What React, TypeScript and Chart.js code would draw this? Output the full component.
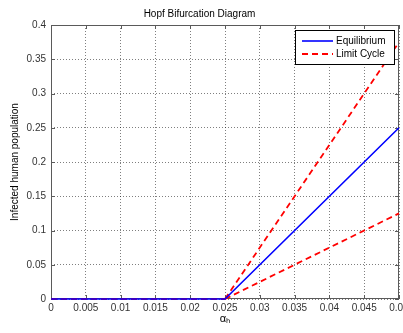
import React, { useEffect, useRef } from "react";
import { Chart, registerables } from "chart.js";
Chart.register(...registerables);

const xTickValues = [0, 0.005, 0.01, 0.015, 0.02, 0.025, 0.03, 0.035, 0.04, 0.045, 0.05];
const xTickLabels = ["0", "0.005", "0.01", "0.015", "0.02", "0.025", "0.03", "0.035", "0.04", "0.045", "0.05"];
const yTickValues = [0, 0.05, 0.1, 0.15, 0.2, 0.25, 0.3, 0.35, 0.4];
const yTickLabels = ["0", "0.05", "0.1", "0.15", "0.2", "0.25", "0.3", "0.35", "0.4"];

const alphaEq = [0, 0.025, 0.05];
const equilibrium = [0, 0, 0.25];
const alphaLcBase = [0, 0.025];
const limitCycleBase = [0, 0];
const alphaLcBranch = [0.025, 0.05];
const limitCycleUpper = [0, 0.375];
const limitCycleLower = [0, 0.125];

const FONT = "'Liberation Sans', Arial, Helvetica, sans-serif";

const toPts = (xs: number[], ys: number[]) => xs.map((x, i) => ({ x, y: ys[i] }));

const framePlugin = {
  id: "matlabFrame",
  beforeDatasetsDraw(chart: any) {
    const { ctx, chartArea, scales } = chart;
    const { left, right, top, bottom } = chartArea;
    const xs = scales.x;
    const ys = scales.y;
    ctx.save();
    ctx.strokeStyle = "#5a5a5a";
    ctx.lineWidth = 1;
    ctx.setLineDash([]);
    ctx.strokeRect(left + 0.5, top + 0.5, right - left - 1, bottom - top - 1);
    ctx.beginPath();
    xTickValues.forEach((v) => {
      const px = Math.round(xs.getPixelForValue(v)) + 0.5;
      ctx.moveTo(px, bottom);
      ctx.lineTo(px, bottom - 4);
      ctx.moveTo(px, top);
      ctx.lineTo(px, top + 4);
    });
    yTickValues.forEach((v) => {
      const py = Math.round(ys.getPixelForValue(v)) + 0.5;
      ctx.moveTo(left, py);
      ctx.lineTo(left + 4, py);
      ctx.moveTo(right, py);
      ctx.lineTo(right - 4, py);
    });
    ctx.stroke();
    ctx.restore();
  },
  afterDatasetsDraw(chart: any) {
    const { ctx } = chart;
    ctx.save();
    const entries = chart.data.datasets.filter((d: any) => d.showInLegend);
    const bx = 295.5;
    const by = 30.5;
    const bw = 99;
    const bh = 34;
    ctx.fillStyle = "#ffffff";
    ctx.fillRect(bx, by, bw, bh);
    ctx.strokeStyle = "#000000";
    ctx.lineWidth = 1;
    ctx.setLineDash([]);
    ctx.strokeRect(bx, by, bw, bh);
    ctx.font = `10px ${FONT}`;
    ctx.textBaseline = "middle";
    ctx.textAlign = "left";
    entries.forEach((d: any, i: number) => {
      const yy = 41 + i * 13;
      ctx.strokeStyle = d.borderColor;
      ctx.lineWidth = d.borderWidth;
      ctx.setLineDash(d.borderDash || []);
      ctx.beginPath();
      ctx.moveTo(302, yy);
      ctx.lineTo(333, yy);
      ctx.stroke();
      ctx.fillStyle = "#000000";
      ctx.fillText(d.label, 336, yy);
    });
    ctx.restore();
  },
};

export default function App() {
  const ref = useRef<HTMLCanvasElement | null>(null);
  useEffect(() => {
    document.body.style.overflow = "hidden";
    const canvas = ref.current!;
    const common = { pointRadius: 0, tension: 0, fill: false, clip: 3 };
    const chart = new Chart(canvas, {
      type: "line",
      data: {
        datasets: [
          {
            ...common,
            label: "Equilibrium",
            showInLegend: true,
            data: toPts(alphaEq, equilibrium),
            borderColor: "#0000ff",
            borderWidth: 1.6,
          } as any,
          {
            ...common,
            label: "Limit Cycle",
            showInLegend: true,
            data: toPts(alphaLcBase, limitCycleBase),
            borderColor: "#ff0000",
            borderWidth: 1.8,
            borderDash: [6, 4],
          } as any,
          {
            ...common,
            label: "Limit Cycle (upper)",
            showInLegend: false,
            data: toPts(alphaLcBranch, limitCycleUpper),
            borderColor: "#ff0000",
            borderWidth: 1.8,
            borderDash: [6, 4],
          } as any,
          {
            ...common,
            label: "Limit Cycle (lower)",
            showInLegend: false,
            data: toPts(alphaLcBranch, limitCycleLower),
            borderColor: "#ff0000",
            borderWidth: 1.8,
            borderDash: [6, 4],
          } as any,
        ],
      },
      options: {
        responsive: false,
        animation: false,
        devicePixelRatio: 1,
        layout: { padding: { left: 0, right: 21, top: 0, bottom: 0 } },
        plugins: {
          legend: { display: false },
          tooltip: { enabled: false },
          title: {
            display: true,
            text: "Hopf Bifurcation Diagram",
            color: "#000000",
            font: { family: FONT, size: 10, weight: "normal" },
            padding: { top: 8, bottom: 5 },
          },
        },
        scales: {
          x: {
            type: "linear",
            min: 0,
            max: 0.05,
            afterBuildTicks: (scale: any) => {
              scale.ticks = xTickValues.map((v) => ({ value: v }));
            },
            afterFit: (scale: any) => {
              scale.height = 34;
            },
            ticks: {
              autoSkip: false,
              maxRotation: 0,
              padding: 3,
              color: "#333333",
              font: { family: FONT, size: 10 },
              callback: (_v: any, i: number) => xTickLabels[i],
            },
            grid: { color: "rgba(0,0,0,0.5)", drawTicks: false, lineWidth: 1 },
            border: { display: false, dash: [1, 2] },
            title: {
              display: true,
              text: "αₕ",
              color: "#000000",
              font: { family: FONT, size: 11 },
              padding: { top: 0, bottom: 7 },
            },
          },
          y: {
            type: "linear",
            min: 0,
            max: 0.4,
            afterBuildTicks: (scale: any) => {
              scale.ticks = yTickValues.map((v) => ({ value: v }));
            },
            afterFit: (scale: any) => {
              scale.width = 51;
            },
            ticks: {
              autoSkip: false,
              padding: 5,
              color: "#333333",
              font: { family: FONT, size: 10 },
              callback: (_v: any, i: number) => yTickLabels[i],
            },
            grid: { color: "rgba(0,0,0,0.5)", drawTicks: false, lineWidth: 1 },
            border: { display: false, dash: [1, 2] },
            title: {
              display: true,
              text: "Infected human population",
              color: "#000000",
              font: { family: FONT, size: 10 },
              padding: { top: 9, bottom: 0 },
            },
          },
        },
      } as any,
      plugins: [framePlugin],
    });
    return () => chart.destroy();
  }, []);
  return (
    <div style={{ position: "absolute", left: 0, top: 0, width: 403, height: 333, overflow: "hidden", background: "#ffffff" }}>
      <canvas ref={ref} width={420} height={333} style={{ width: 420, height: 333, display: "block" }} />
    </div>
  );
}
